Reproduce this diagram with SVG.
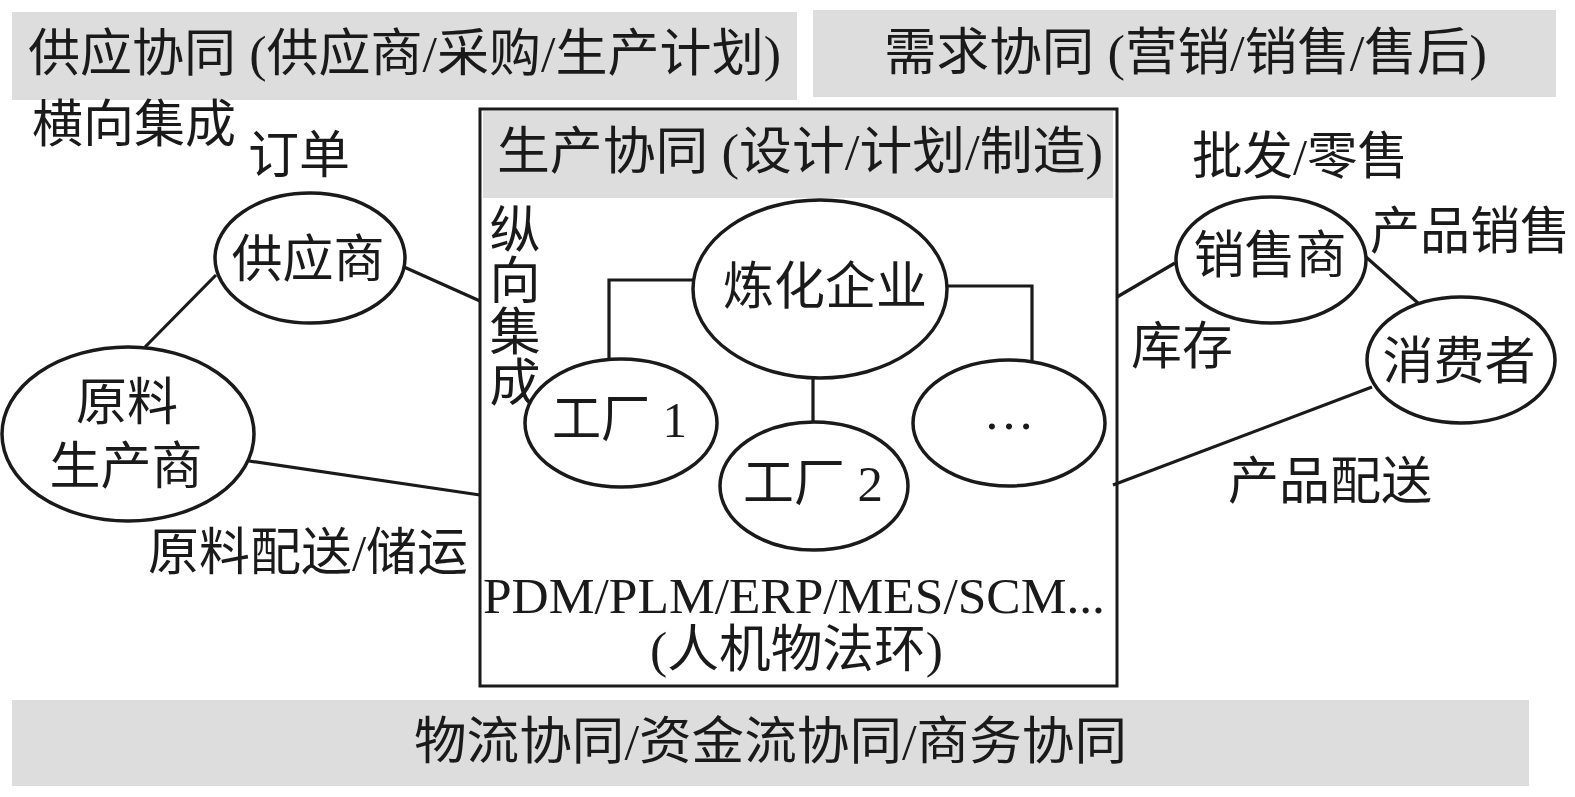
<svg xmlns="http://www.w3.org/2000/svg" width="1575" height="797" viewBox="0 0 1575 797">
<style>
text{font-family:"Liberation Serif","Noto Sans CJK SC",serif;font-size:51px;fill:#1a1a1a}
.m{text-anchor:middle}
.band{fill:#dddddd}
.node{fill:#ffffff;stroke:#1a1a1a;stroke-width:3.5}
.edge{fill:none;stroke:#1a1a1a;stroke-width:3.2}
</style>
<rect width="1575" height="797" fill="#ffffff"/>
<g id="band-supply">
<rect class="band" x="12" y="12" width="785" height="88"/>
<text x="28" y="71" textLength="753" lengthAdjust="spacingAndGlyphs">供应协同 (供应商/采购/生产计划)</text>
</g>
<g id="band-demand">
<rect class="band" x="813" y="10" width="743" height="87"/>
<text x="884" y="70" textLength="603" lengthAdjust="spacingAndGlyphs">需求协同 (营销/销售/售后)</text>
</g>
<g id="band-bottom">
<rect class="band" x="12" y="700" width="1517" height="86"/>
<text x="414" y="759" textLength="713" lengthAdjust="spacingAndGlyphs">物流协同/资金流协同/商务协同</text>
</g>
<g id="production-box">
<rect x="480" y="109" width="637" height="577" fill="#ffffff" stroke="#1a1a1a" stroke-width="3"/>
<rect class="band" x="483" y="111" width="630" height="87"/>
<text x="497" y="169" font-size="48" textLength="606" lengthAdjust="spacingAndGlyphs">生产协同 (设计/计划/制造)</text>
<text x="483" y="613" font-size="68" textLength="622" lengthAdjust="spacingAndGlyphs">PDM/PLM/ERP/MES/SCM...</text>
<text x="650" y="667" textLength="293" lengthAdjust="spacingAndGlyphs">(人机物法环)</text>
</g>
<g id="connectors">
<line class="edge" x1="145" y1="347" x2="216" y2="275"/>
<line class="edge" x1="404" y1="267" x2="480" y2="301"/>
<line class="edge" x1="249" y1="461" x2="480" y2="495"/>
<line class="edge" x1="1117" y1="297" x2="1175" y2="263"/>
<line class="edge" x1="1366" y1="257" x2="1418" y2="303"/>
<line class="edge" x1="1113" y1="485" x2="1372" y2="387"/>
<polyline class="edge" points="693,280 609,280 609,360"/>
<polyline class="edge" points="947,286 1032,286 1032,362"/>
<line class="edge" x1="813" y1="378" x2="813" y2="422"/>
</g>
<g id="label-horizontal"><text class="m" x="134" y="142">横向集成</text></g>
<g id="label-order"><text class="m" x="299" y="173">订单</text></g>
<g id="label-raw-delivery"><text x="148" y="570" textLength="320" lengthAdjust="spacingAndGlyphs">原料配送/储运</text></g>
<g id="label-vertical">
<text x="510" y="203" font-size="48" writing-mode="vertical-rl">纵向集成</text>
</g>
<g id="label-wholesale"><text x="1192" y="174" textLength="216" lengthAdjust="spacingAndGlyphs">批发/零售</text></g>
<g id="label-product-sales"><text x="1370" y="249" textLength="200" lengthAdjust="spacingAndGlyphs">产品销售</text></g>
<g id="label-stock"><text class="m" x="1182" y="364">库存</text></g>
<g id="label-product-delivery"><text x="1228" y="499" textLength="204" lengthAdjust="spacingAndGlyphs">产品配送</text></g>
<g id="node-supplier">
<ellipse class="node" cx="310" cy="258" rx="95" ry="65"/>
<text class="m" x="308" y="277">供应商</text>
</g>
<g id="node-raw-producer">
<ellipse class="node" cx="128" cy="434" rx="126" ry="87"/>
<text class="m" x="127" y="420">原料</text>
<text class="m" x="126" y="484">生产商</text>
</g>
<g id="node-enterprise">
<ellipse class="node" cx="820" cy="289" rx="127" ry="89"/>
<text class="m" x="825" y="304">炼化企业</text>
</g>
<g id="node-plant1">
<ellipse class="node" cx="621" cy="423" rx="96" ry="64"/>
<text x="552" y="437" textLength="135" lengthAdjust="spacingAndGlyphs">工厂 1</text>
</g>
<g id="node-plant2">
<ellipse class="node" cx="814" cy="486" rx="94" ry="64"/>
<text x="743" y="501" textLength="140" lengthAdjust="spacingAndGlyphs">工厂 2</text>
</g>
<g id="node-more">
<ellipse class="node" cx="1009" cy="423" rx="96" ry="63"/>
<text class="m" x="1009" y="429" font-size="36">…</text>
</g>
<g id="node-dealer">
<ellipse class="node" cx="1271" cy="260" rx="95" ry="63"/>
<text class="m" x="1270" y="273">销售商</text>
</g>
<g id="node-consumer">
<ellipse class="node" cx="1461" cy="360" rx="94" ry="63"/>
<text class="m" x="1459" y="379">消费者</text>
</g>
</svg>
